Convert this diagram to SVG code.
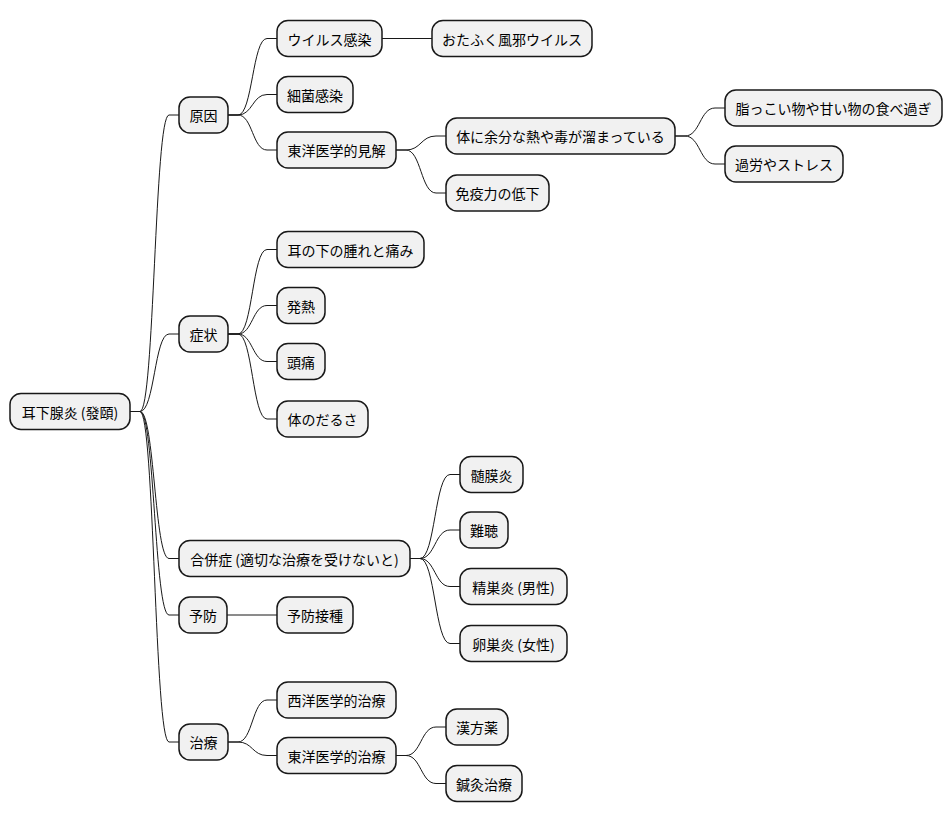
<svg xmlns="http://www.w3.org/2000/svg" width="952" height="823" viewBox="0 0 952 823">
<style>
.n rect{fill:#f1f1f1;stroke:#181818;stroke-width:1.5}
.n text{font-family:"Noto Sans CJK JP","Noto Sans",sans-serif;font-size:14px;fill:#000;text-anchor:middle;dominant-baseline:central}
#edges path{fill:none;stroke:#181818;stroke-width:1}
</style>
<rect width="952" height="823" fill="#fff"/>
<g id="edges">
<path d="M130 411.5 H140 C154.5 411.5 154.5 115 169 115 H179"/>
<path d="M130 411.5 H140 C154.5 411.5 154.5 334 169 334 H179"/>
<path d="M130 411.5 H140 C154.5 411.5 154.5 558.5 169 558.5 H179"/>
<path d="M130 411.5 H140 C154.5 411.5 154.5 615 169 615 H179"/>
<path d="M130 411.5 H140 C154.5 411.5 154.5 742 169 742 H179"/>
<path d="M228 115 H238 C252.5 115 252.5 38.5 267 38.5 H277"/>
<path d="M228 115 H238 C252.5 115 252.5 94.5 267 94.5 H277"/>
<path d="M228 115 H238 C252.5 115 252.5 150 267 150 H277"/>
<path d="M382 38.5 H432"/>
<path d="M396 150 H406 C421 150 421 136 436 136 H446"/>
<path d="M396 150 H406 C421 150 421 193 436 193 H446"/>
<path d="M675 136 H685 C700 136 700 108 715 108 H725"/>
<path d="M675 136 H685 C700 136 700 164 715 164 H725"/>
<path d="M228 334 H238 C252.5 334 252.5 249.5 267 249.5 H277"/>
<path d="M228 334 H238 C252.5 334 252.5 305.5 267 305.5 H277"/>
<path d="M228 334 H238 C252.5 334 252.5 361.5 267 361.5 H277"/>
<path d="M228 334 H238 C252.5 334 252.5 419 267 419 H277"/>
<path d="M410 558.5 H420 C435 558.5 435 474.5 450 474.5 H460"/>
<path d="M410 558.5 H420 C435 558.5 435 530 450 530 H460"/>
<path d="M410 558.5 H420 C435 558.5 435 586.5 450 586.5 H460"/>
<path d="M410 558.5 H420 C435 558.5 435 643.5 450 643.5 H460"/>
<path d="M227 615 H277"/>
<path d="M228 742 H238 C252.5 742 252.5 700 267 700 H277"/>
<path d="M228 742 H238 C252.5 742 252.5 755.5 267 755.5 H277"/>
<path d="M396 755.5 H406 C421 755.5 421 727 436 727 H446"/>
<path d="M396 755.5 H406 C421 755.5 421 783.5 436 783.5 H446"/>
</g>
<g id="root" class="n"><rect x="10" y="393.5" width="120" height="36" rx="11"/><text x="70" y="411.5">耳下腺炎 (發頤)</text></g>
<g id="cause" class="n"><rect x="179" y="97" width="49" height="36" rx="11"/><text x="203.5" y="115">原因</text></g>
<g id="symptom" class="n"><rect x="179" y="316" width="49" height="36" rx="11"/><text x="203.5" y="334">症状</text></g>
<g id="complication" class="n"><rect x="179" y="540.5" width="231" height="36" rx="11"/><text x="294.5" y="558.5">合併症 (適切な治療を受けないと)</text></g>
<g id="prevent" class="n"><rect x="179" y="597" width="48" height="36" rx="11"/><text x="203" y="615">予防</text></g>
<g id="treat" class="n"><rect x="179" y="724" width="49" height="36" rx="11"/><text x="203.5" y="742">治療</text></g>
<g id="virus" class="n"><rect x="277" y="20.5" width="105" height="36" rx="11"/><text x="329.5" y="38.5">ウイルス感染</text></g>
<g id="mumpsvirus" class="n"><rect x="432" y="20.5" width="160" height="36" rx="11"/><text x="512" y="38.5">おたふく風邪ウイルス</text></g>
<g id="bacteria" class="n"><rect x="277" y="76.5" width="76" height="36" rx="11"/><text x="315" y="94.5">細菌感染</text></g>
<g id="eastview" class="n"><rect x="277" y="132" width="119" height="36" rx="11"/><text x="336.5" y="150">東洋医学的見解</text></g>
<g id="heat" class="n"><rect x="446" y="118" width="229" height="36" rx="11"/><text x="560.5" y="136">体に余分な熱や毒が溜まっている</text></g>
<g id="immune" class="n"><rect x="446" y="175" width="103" height="36" rx="11"/><text x="497.5" y="193">免疫力の低下</text></g>
<g id="food" class="n"><rect x="725" y="90" width="217" height="36" rx="11"/><text x="833.5" y="108">脂っこい物や甘い物の食べ過ぎ</text></g>
<g id="stress" class="n"><rect x="725" y="146" width="118" height="36" rx="11"/><text x="784" y="164">過労やストレス</text></g>
<g id="swelling" class="n"><rect x="277" y="231.5" width="147" height="36" rx="11"/><text x="350.5" y="249.5">耳の下の腫れと痛み</text></g>
<g id="fever" class="n"><rect x="277" y="287.5" width="48" height="36" rx="11"/><text x="301" y="305.5">発熱</text></g>
<g id="headache" class="n"><rect x="277" y="343.5" width="48" height="36" rx="11"/><text x="301" y="361.5">頭痛</text></g>
<g id="fatigue" class="n"><rect x="277" y="401" width="91" height="36" rx="11"/><text x="322.5" y="419">体のだるさ</text></g>
<g id="meningitis" class="n"><rect x="460" y="456.5" width="63" height="36" rx="11"/><text x="491.5" y="474.5">髄膜炎</text></g>
<g id="deafness" class="n"><rect x="460" y="512" width="48" height="36" rx="11"/><text x="484" y="530">難聴</text></g>
<g id="orchitis" class="n"><rect x="460" y="568.5" width="107" height="36" rx="11"/><text x="513.5" y="586.5">精巣炎 (男性)</text></g>
<g id="oophoritis" class="n"><rect x="460" y="625.5" width="107" height="36" rx="11"/><text x="513.5" y="643.5">卵巣炎 (女性)</text></g>
<g id="vaccine" class="n"><rect x="277" y="597" width="76" height="36" rx="11"/><text x="315" y="615">予防接種</text></g>
<g id="western" class="n"><rect x="277" y="682" width="119" height="36" rx="11"/><text x="336.5" y="700">西洋医学的治療</text></g>
<g id="eastern" class="n"><rect x="277" y="737.5" width="119" height="36" rx="11"/><text x="336.5" y="755.5">東洋医学的治療</text></g>
<g id="kampo" class="n"><rect x="446" y="709" width="62" height="36" rx="11"/><text x="477" y="727">漢方薬</text></g>
<g id="acupuncture" class="n"><rect x="446" y="765.5" width="76" height="36" rx="11"/><text x="484" y="783.5">鍼灸治療</text></g>
</svg>
